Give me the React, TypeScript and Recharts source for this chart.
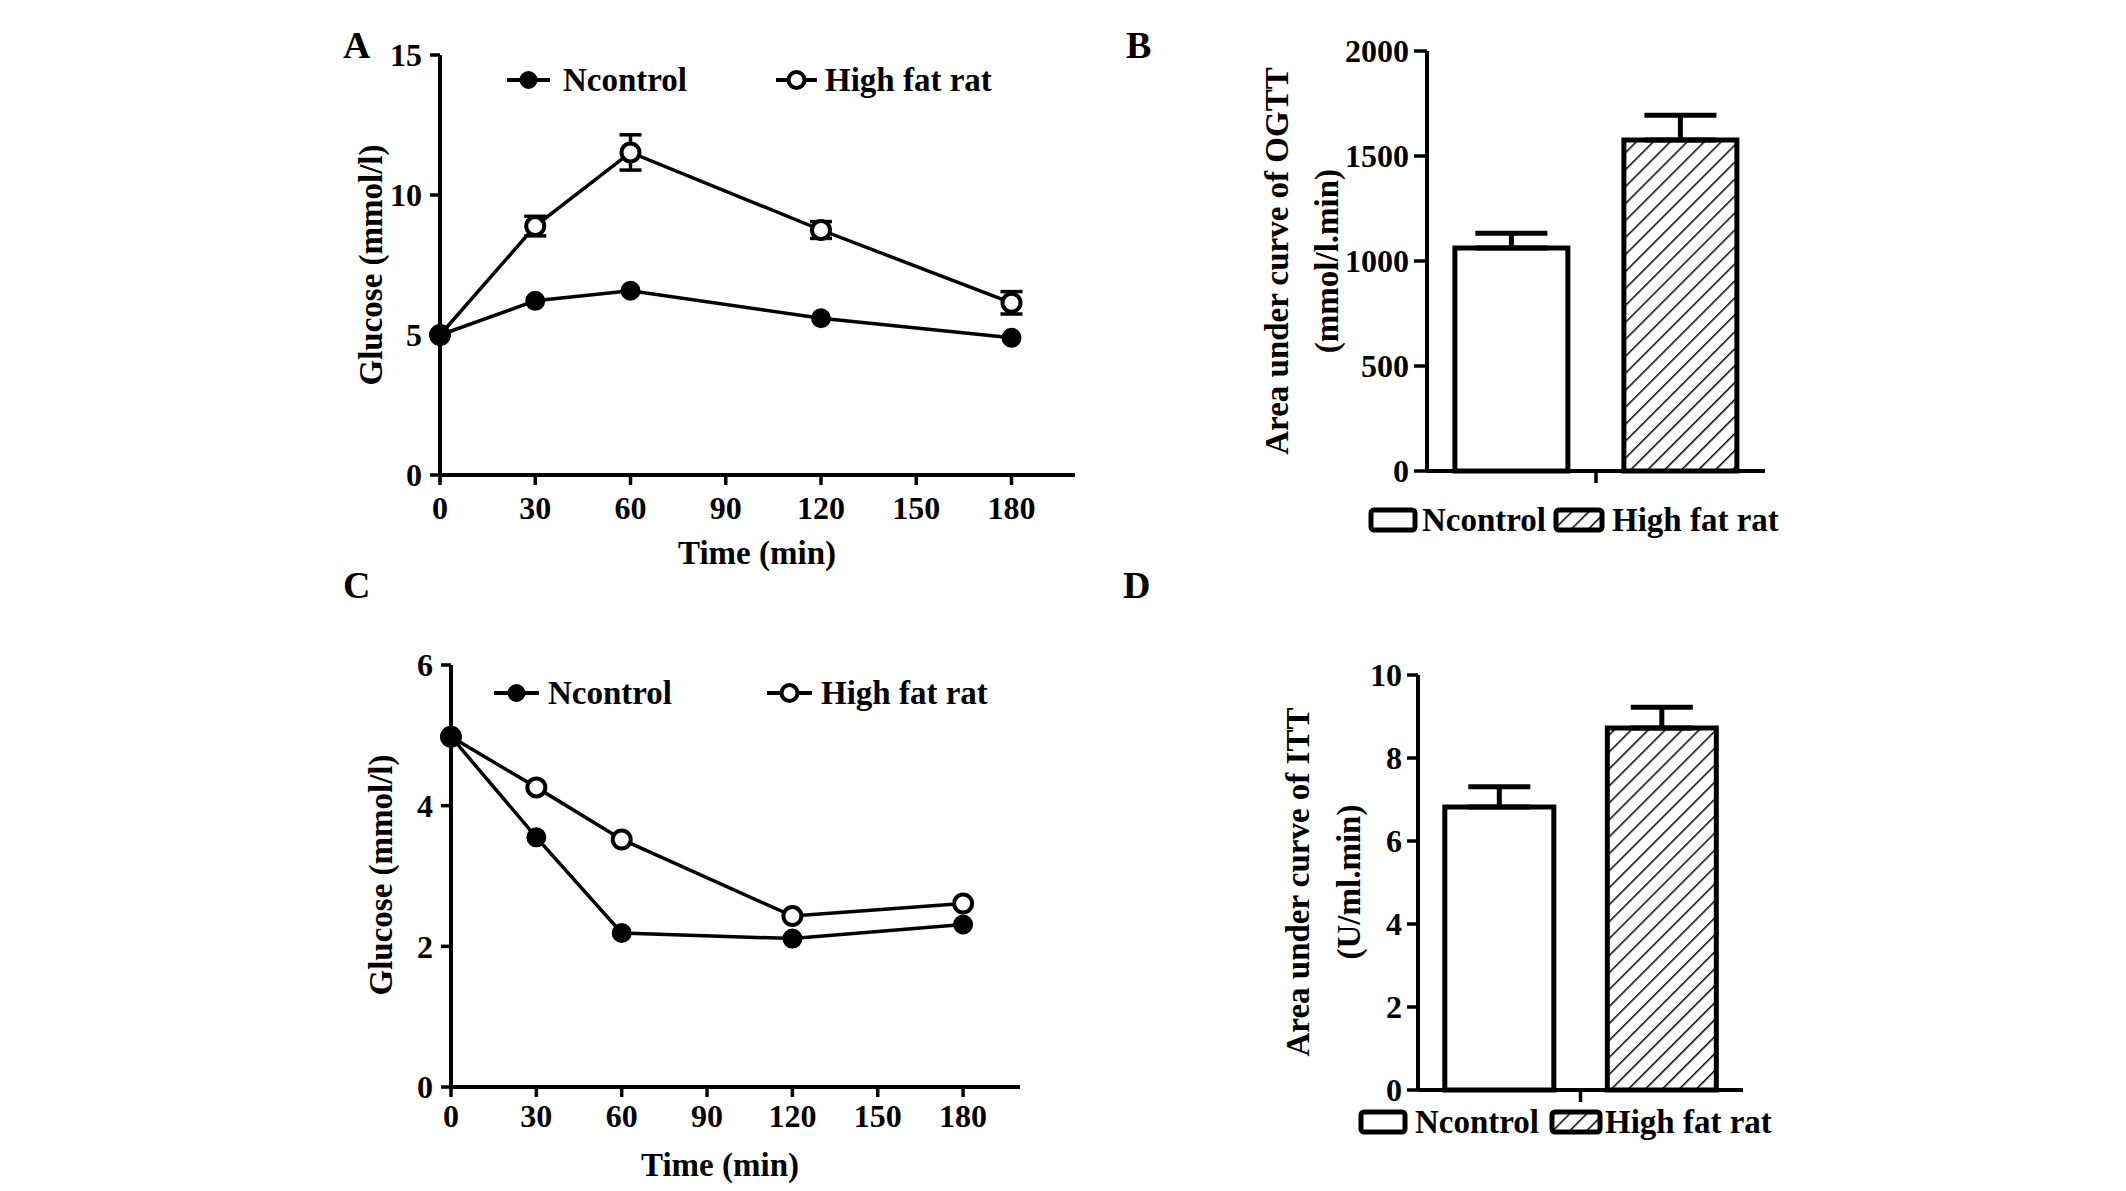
import React from 'react'
import {
  Bar,
  BarChart,
  Cell,
  ErrorBar,
  Label,
  Legend,
  Line,
  LineChart,
  XAxis,
  YAxis,
} from 'recharts'

// time course (min)
const timePoints = [0, 30, 60, 120, 180]
const timeTicks = [0, 30, 60, 90, 120, 150, 180]

// A: OGTT glucose (mmol/l)
const ogttNcontrol = [5.0, 6.22, 6.58, 5.6, 4.9]
const ogttHighFat = [5.0, 8.89, 11.52, 8.75, 6.15]
const ogttHighFatErr = [0, 0.35, 0.63, 0.3, 0.4]
const ogttTicks = [0, 5, 10, 15]

// C: ITT glucose (mmol/l)
const ittNcontrol = [4.98, 3.55, 2.19, 2.11, 2.31]
const ittHighFat = [4.98, 4.26, 3.52, 2.43, 2.61]
const ittTicks = [0, 2, 4, 6]

// B / D: area under curve
const groups = ['Ncontrol', 'High fat rat']
const ogttAuc = [1062, 1576]
const ogttAucErr = [70, 118]
const ogttAucTicks = [0, 500, 1000, 1500, 2000]
const ittAuc = [6.82, 8.72]
const ittAucErr = [0.49, 0.5]
const ittAucTicks = [0, 2, 4, 6, 8, 10]

const FONT = "'Liberation Serif', 'Times New Roman', serif"
const tickStyle = { fill: '#000', fontSize: 32, fontWeight: 700, fontFamily: FONT }
const titleStyle = { fill: '#000', fontSize: 33, fontWeight: 700, fontFamily: FONT }
const axisLine = { stroke: '#000', strokeWidth: 4 }
const tickLine = { stroke: '#000', strokeWidth: 3.5 }

const ogttRows = timePoints.map((time, i) => ({
  time,
  ncontrol: ogttNcontrol[i],
  highFat: ogttHighFat[i],
  highFatErr: ogttHighFatErr[i],
}))

const ittRows = timePoints.map((time, i) => ({
  time,
  ncontrol: ittNcontrol[i],
  highFat: ittHighFat[i],
}))

const ogttAucRows = groups.map((group, i) => ({
  group,
  auc: ogttAuc[i],
  err: [0, ogttAucErr[i]],
}))

const ittAucRows = groups.map((group, i) => ({
  group,
  auc: ittAuc[i],
  err: [0, ittAucErr[i]],
}))

const barFills = ['#fff', 'url(#hatch)']

function YTitle({ xs, y, lines }: { xs: number[]; y: number; lines: string[] }) {
  return (
    <g>
      {lines.map((line, i) => (
        <text
          key={line}
          x={xs[i]}
          y={y}
          dy={11}
          textAnchor='middle'
          transform={`rotate(-90 ${xs[i]} ${y})`}
          style={titleStyle}
        >
          {line}
        </text>
      ))}
    </g>
  )
}

function XTitle({ x, y, text }: { x: number; y: number; text: string }) {
  return (
    <text x={x} y={y + 11} textAnchor='middle' style={titleStyle}>
      {text}
    </text>
  )
}

// GraphPad style: one tick on the boundary between the two bar categories
function BandEdgeTick(props: any) {
  const { x, y, payload, index } = props
  if (index !== 0) return <g />
  const edge = x + (payload?.offset ?? 0)
  return <line x1={edge} x2={edge} y1={y} y2={y + 12} stroke='#000' strokeWidth={3.5} />
}

type LineKeyItem = { label: string; x0: number; x1: number; tx: number; open: boolean }

function LineKey({ items, y, width, height }: { items: LineKeyItem[]; y: number; width: number; height: number }) {
  return (
    <svg width={width} height={height} style={{ display: 'block' }}>
      {items.map((it) => (
        <g key={it.label}>
          <line x1={it.x0} x2={it.x1} y1={y} y2={y} stroke='#000' strokeWidth={4} />
          <circle
            cx={(it.x0 + it.x1) / 2}
            cy={y}
            r={8}
            fill={it.open ? '#fff' : '#000'}
            stroke='#000'
            strokeWidth={it.open ? 4 : 2}
          />
          <text x={it.tx} y={y + 11} style={titleStyle}>
            {it.label}
          </text>
        </g>
      ))}
    </svg>
  )
}

type BoxKeyItem = { label: string; x0: number; x1: number; tx: number; fill: string }

function BoxKey({ items, y, width, height }: { items: BoxKeyItem[]; y: number; width: number; height: number }) {
  return (
    <svg width={width} height={height} style={{ display: 'block' }}>
      {items.map((it) => (
        <g key={it.label}>
          <rect
            x={it.x0}
            y={y - 10}
            width={it.x1 - it.x0}
            height={20}
            rx={3}
            fill={it.fill}
            stroke='#000'
            strokeWidth={5}
          />
          <text x={it.tx} y={y + 11} style={titleStyle}>
            {it.label}
          </text>
        </g>
      ))}
    </svg>
  )
}

function GlucoseChart({
  rows,
  width,
  height,
  margin,
  yWidth,
  xHeight,
  yDomain,
  yTicks,
  tickMargin,
  withErrors,
  keyItems,
  keyY,
  xTitle,
  yTitle,
}: any) {
  return (
    <LineChart width={width} height={height} data={rows} margin={margin}>
      <XAxis
        dataKey='time'
        type='number'
        domain={[0, 200]}
        ticks={timeTicks}
        interval={0}
        height={xHeight}
        axisLine={axisLine}
        tickLine={tickLine}
        tickSize={10}
        tickMargin={tickMargin}
        tick={tickStyle}
      >
        <Label content={() => <XTitle x={xTitle[0]} y={xTitle[1]} text='Time (min)' />} />
      </XAxis>
      <YAxis
        type='number'
        domain={yDomain}
        ticks={yTicks}
        interval={0}
        width={yWidth}
        axisLine={axisLine}
        tickLine={tickLine}
        tickSize={10}
        tickMargin={8}
        tick={tickStyle}
      >
        <Label content={() => <YTitle xs={[yTitle[0]]} y={yTitle[1]} lines={['Glucose (mmol/l)']} />} />
      </YAxis>
      <Legend
        layout='horizontal'
        verticalAlign='middle'
        align='center'
        wrapperStyle={{ left: 0, top: 0, width, height, pointerEvents: 'none' }}
        content={() => <LineKey items={keyItems} y={keyY} width={width} height={height} />}
      />
      <Line
        dataKey='highFat'
        stroke='#000'
        strokeWidth={3.5}
        dot={{ r: 9, fill: '#fff', stroke: '#000', strokeWidth: 4 }}
        isAnimationActive={false}
      >
        {withErrors && <ErrorBar dataKey='highFatErr' width={11} strokeWidth={3.5} stroke='#000' />}
      </Line>
      <Line
        dataKey='ncontrol'
        stroke='#000'
        strokeWidth={3.5}
        dot={{ r: 9, fill: '#000', stroke: '#000', strokeWidth: 2 }}
        isAnimationActive={false}
      />
    </LineChart>
  )
}

function AucChart({
  rows,
  width,
  height,
  margin,
  yWidth,
  xHeight,
  yDomain,
  yTicks,
  yTickSize,
  gap,
  capWidth,
  keyItems,
  keyY,
  titleXs,
  titleY,
  titleLines,
}: any) {
  return (
    <BarChart width={width} height={height} data={rows} margin={margin} barCategoryGap={gap}>
      <XAxis
        dataKey='group'
        interval={0}
        height={xHeight}
        axisLine={axisLine}
        tickLine={false}
        tickSize={0}
        tickMargin={0}
        tick={<BandEdgeTick />}
      />
      <YAxis
        type='number'
        domain={yDomain}
        ticks={yTicks}
        interval={0}
        width={yWidth}
        axisLine={axisLine}
        tickLine={tickLine}
        tickSize={yTickSize}
        tickMargin={5}
        tick={tickStyle}
      >
        <Label content={() => <YTitle xs={titleXs} y={titleY} lines={titleLines} />} />
      </YAxis>
      <Legend
        layout='horizontal'
        verticalAlign='middle'
        align='center'
        wrapperStyle={{ left: 0, top: 0, width, height, pointerEvents: 'none' }}
        content={() => <BoxKey items={keyItems} y={keyY} width={width} height={height} />}
      />
      <Bar dataKey='auc' stroke='#000' strokeWidth={5} isAnimationActive={false}>
        {rows.map((r: any, i: number) => (
          <Cell key={r.group} fill={barFills[i]} />
        ))}
        <ErrorBar dataKey='err' width={capWidth} strokeWidth={5} stroke='#000' />
      </Bar>
    </BarChart>
  )
}

function PanelLetter({ x, y, text }: { x: number; y: number; text: string }) {
  return (
    <text x={x} y={y} style={{ fill: '#000', fontSize: 38, fontWeight: 700, fontFamily: FONT }}>
      {text}
    </text>
  )
}

export default function App() {
  return (
    <div
      style={{
        position: 'absolute',
        left: 0,
        top: 0,
        width: 2126,
        height: 1191,
        background: '#fff',
        overflow: 'hidden',
      }}
    >
      <svg width={2126} height={1191} style={{ position: 'absolute', left: 0, top: 0 }}>
        <defs>
          <pattern
            id='hatch'
            patternUnits='userSpaceOnUse'
            width={12}
            height={12}
            patternTransform='rotate(45)'
          >
            <rect width={12} height={12} fill='#fff' />
            <line x1={0} y1={0} x2={0} y2={12} stroke='#000' strokeWidth={3} />
          </pattern>
        </defs>
        <PanelLetter x={343} y={58} text='A' />
        <PanelLetter x={1126} y={58} text='B' />
        <PanelLetter x={343} y={598} text='C' />
        <PanelLetter x={1123} y={598} text='D' />
      </svg>

      <div style={{ position: 'absolute', left: 300, top: 0 }}>
        <GlucoseChart
          rows={ogttRows}
          width={800}
          height={600}
          margin={{ top: 55, right: 25, bottom: 0, left: 0 }}
          yWidth={140}
          xHeight={125}
          yDomain={[0, 15]}
          yTicks={ogttTicks}
          tickMargin={11}
          withErrors
          keyItems={[
            { label: 'Ncontrol', x0: 207, x1: 250, tx: 263, open: false },
            { label: 'High fat rat', x0: 476, x1: 517, tx: 525, open: true },
          ]}
          keyY={80}
          xTitle={[457, 553]}
          yTitle={[71, 265]}
        />
      </div>

      <div style={{ position: 'absolute', left: 310, top: 600 }}>
        <GlucoseChart
          rows={ittRows}
          width={740}
          height={591}
          margin={{ top: 65, right: 30, bottom: 0, left: 0 }}
          yWidth={141}
          xHeight={104}
          yDomain={[0, 6]}
          yTicks={ittTicks}
          tickMargin={7}
          withErrors={false}
          keyItems={[
            { label: 'Ncontrol', x0: 184, x1: 229, tx: 238, open: false },
            { label: 'High fat rat', x0: 457, x1: 502, tx: 511, open: true },
          ]}
          keyY={93}
          xTitle={[410, 565]}
          yTitle={[71, 275]}
        />
      </div>

      <div style={{ position: 'absolute', left: 1200, top: 0 }}>
        <AucChart
          rows={ogttAucRows}
          width={600}
          height={560}
          margin={{ top: 51, right: 35, bottom: 0, left: 0 }}
          yWidth={227}
          xHeight={89}
          yDomain={[0, 2000]}
          yTicks={ogttAucTicks}
          yTickSize={13}
          gap='16.5%'
          capWidth={36}
          keyItems={[
            { label: 'Ncontrol', x0: 171, x1: 215, tx: 222, fill: '#fff' },
            { label: 'High fat rat', x0: 356, x1: 402, tx: 412, fill: 'url(#hatch)' },
          ]}
          keyY={520}
          titleXs={[77, 127]}
          titleY={261}
          titleLines={['Area under curve of OGTT', '(mmol/l.min)']}
        />
      </div>

      <div style={{ position: 'absolute', left: 1200, top: 600 }}>
        <AucChart
          rows={ittAucRows}
          width={600}
          height={591}
          margin={{ top: 75, right: 57, bottom: 0, left: 0 }}
          yWidth={218}
          xHeight={101}
          yDomain={[0, 10]}
          yTicks={ittAucTicks}
          yTickSize={11}
          gap='16.5%'
          capWidth={31}
          keyItems={[
            { label: 'Ncontrol', x0: 161, x1: 205, tx: 215, fill: '#fff' },
            { label: 'High fat rat', x0: 352, x1: 400, tx: 405, fill: 'url(#hatch)' },
          ]}
          keyY={522}
          titleXs={[98, 149]}
          titleY={282}
          titleLines={['Area under curve of ITT', '(U/ml.min)']}
        />
      </div>
    </div>
  )
}
